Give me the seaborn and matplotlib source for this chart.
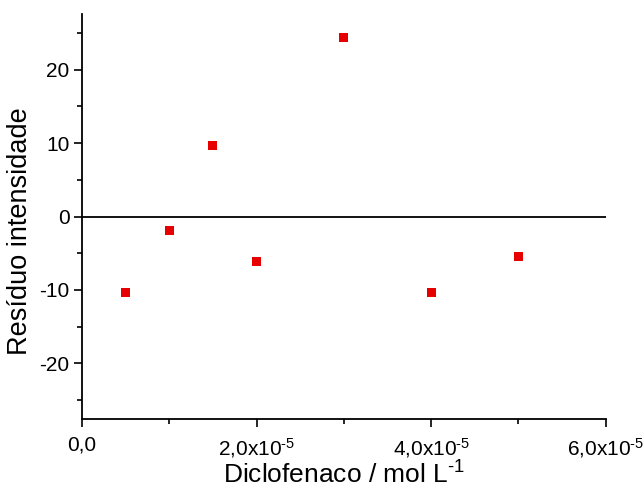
import matplotlib
matplotlib.use("Agg")
import matplotlib.pyplot as plt
import seaborn as sns
import pandas as pd
from matplotlib.ticker import MultipleLocator

concentracao = [5e-6, 1e-5, 1.5e-5, 2e-5, 3e-5, 4e-5, 5e-5]
residuo = [-10.4, -1.85, 9.65, -6.1, 24.45, -10.35, -5.45]
xticks = [0, 2e-5, 4e-5, 6e-5]
xticklabels = ["0,0", r"2,0x10$^{\text{-5}}$", r"4,0x10$^{\text{-5}}$", r"6,0x10$^{\text{-5}}$"]
yticks = [-20, -10, 0, 10, 20]
yticklabels = ["-20", "-10", "0", "10", "20"]

sns.set_theme(style="ticks")
plt.rcParams['font.family'] = ['Liberation Sans', 'DejaVu Sans']
plt.rcParams['mathtext.fontset'] = 'custom'
plt.rcParams['mathtext.rm'] = 'Liberation Sans'
plt.rcParams['mathtext.it'] = 'Liberation Sans'
plt.rcParams['mathtext.default'] = 'regular'

df = pd.DataFrame({"x": concentracao, "y": residuo})

fig = plt.figure(figsize=(6.43, 4.91), dpi=100)
ax = fig.add_axes([0.1275, 0.1466, 0.8145, 0.8249])

ax.axhline(0, color="black", lw=1.3, zorder=1)
sns.scatterplot(data=df, x="x", y="y", ax=ax, marker="s", s=42,
                color="#e60000", edgecolor="none", zorder=3)

ax.set_xlim(0, 6e-5)
ax.set_ylim(-27.6, 27.6)
ax.set_xticks(xticks)
ax.set_xticklabels(xticklabels)
ax.set_yticks(yticks)
ax.set_yticklabels(yticklabels)
ax.xaxis.set_minor_locator(MultipleLocator(1e-5))
ax.yaxis.set_minor_locator(MultipleLocator(5))

for s in ["top", "right"]:
    ax.spines[s].set_visible(False)
for s in ["left", "bottom"]:
    ax.spines[s].set_linewidth(1.3)
    ax.spines[s].set_color("black")

ax.tick_params(which="major", direction="out", length=6, width=1.2,
               colors="black")
ax.tick_params(which="minor", direction="out", length=3.5, width=1.2, colors="black")
ax.tick_params(axis="x", which="major", labelsize=15, pad=6)
ax.tick_params(axis="y", which="major", labelsize=15, pad=3)

ax.set_xlabel(r"Diclofenaco / mol L$^{\text{-1}}$", fontsize=19, color="black", labelpad=1)
ax.set_ylabel("Resíduo intensidade", fontsize=19.5, color="black")
ax.yaxis.set_label_coords(-0.094, 0.465)

fig.savefig("out.png", dpi=100)
